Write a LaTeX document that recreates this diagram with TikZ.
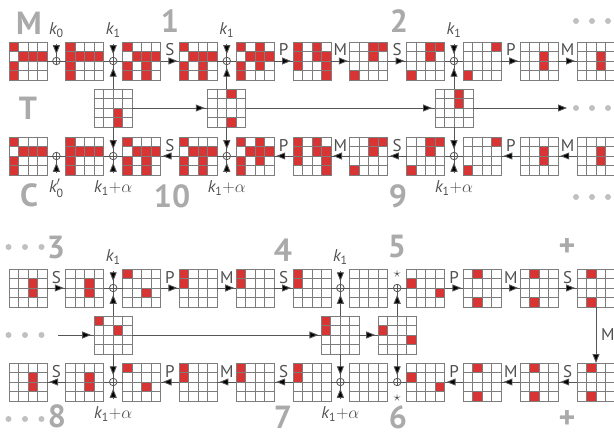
\documentclass[tikz,border=0pt]{standalone}
\usepackage{amsmath}
\usepackage{fontspec}
\setmainfont{PT Sans}
\usetikzlibrary{arrows.meta,calc}
\definecolor{cellred}{RGB}{217,52,52}
\definecolor{gridgray}{RGB}{125,125,125}
\definecolor{conngray}{RGB}{85,85,85}
\definecolor{labgray}{RGB}{80,80,80}
\definecolor{biggray}{RGB}{170,170,170}
\definecolor{dotgray}{RGB}{192,192,192}
\tikzset{
  gridbox/.style={draw=none, minimum size=38pt, inner sep=0pt, outer sep=0pt},
  gridline/.style={draw=gridgray, line width=0.9pt},
  conn/.style={draw=conngray, line width=0.9pt},
  tip/.style={-{Triangle[length=9pt,width=7pt]}},
  xorc/.style={circle, draw=conngray, line width=0.8pt, minimum size=7.5pt, inner sep=0pt, outer sep=0pt,
    path picture={\draw[conngray, line width=0.7pt] (path picture bounding box.north) -- (path picture bounding box.south) (path picture bounding box.west) -- (path picture bounding box.east);}},
  oplab/.style={text=labgray, font=\fontsize{17}{19}\selectfont, anchor=base, inner sep=0pt},
  keylab/.style={text=labgray, font=\fontsize{17}{19}\selectfont, inner sep=0pt},
  starlab/.style={text=labgray, font=\fontsize{14}{16}\selectfont, inner sep=0pt},
  biglab/.style={text=biggray, font=\fontsize{32}{32}\selectfont\bfseries, inner sep=0pt},
  dotc/.style={circle, fill=dotgray, minimum size=6pt, inner sep=0pt},
}
\newcommand\gridlines[1]{%
  \foreach \ii in {1,2,3} {%
    \draw[gridline] ($(#1.north west)+(\ii*9.5,0)$) -- ++(0,38);
    \draw[gridline] ($(#1.north west)+(0,\ii*9.5)$) -- ++(38,0);}
  \draw[gridline] (#1.north west) rectangle (#1.south east);}
\newcommand\cellgrid[4]{%
  \node[gridbox] (#1) at (#2,#3) {};
  \foreach \ri/\ci in {#4} {\fill[cellred] ($(#1.north west)+(\ci*9.5,\ri*9.5)$) rectangle ++(9.5,9.5);}
  \gridlines{#1}}
\newcommand\emptygrid[3]{%
  \node[gridbox] (#1) at (#2,#3) {};
  \gridlines{#1}}
\newcommand\xorat[5]{%
  \node[xorc] (#1) at (#2,#3) {};
  \draw[conn] (#4.east) -- (#1) -- (#5.west);}
\newcommand\xorleft[5]{%
  \node[xorc] (#1) at (#2,#3) {};
  \draw[conn] (#4.west) -- (#1) -- (#5.east);}
\newcommand\op[4]{%
  \draw[conn] (#1) edge[tip, shorten >=2pt] (#2) -- (#2);
  \node[oplab] (#3) at ($(#1)!0.5!(#2)+(0,-5)$) {#4};}
\newcommand\keyabove[3]{%
  \coordinate (#1k) at ($(#1)+(0,-17)$);
  \draw[conn] (#1k) edge[tip, shorten >=3pt] (#1) -- (#1);
  \node[keylab] (#2) at ($(#1)+(0,-31)$) {#3};}
\newcommand\keybelow[3]{%
  \coordinate (#1k) at ($(#1)+(0,17)$);
  \draw[conn] (#1k) edge[tip, shorten >=3pt] (#1) -- (#1);
  \node[keylab] (#2) at ($(#1)+(0,32)$) {#3};}
\newcommand\tup[2]{\draw[conn] (#1.north) edge[tip, shorten >=3pt] (#2) -- (#2);}
\newcommand\tdown[2]{\draw[conn] (#1.south) edge[tip, shorten >=3pt] (#2) -- (#2);}
\newcommand\kone{$\textit{k}_{\text{1}}$}
\newcommand\kalpha{$\textit{k}_{\text{1}}{+}\alpha$}
\begin{document}
\begin{tikzpicture}[x=1pt,y=-1pt]
\useasboundingbox (0,0) rectangle (614,436);
\clip (0,0) rectangle (614,436);

% ---------- Row 1 (M) ----------
\cellgrid{a1}{28}{61}{0/0,1/1,1/2,1/3,2/0,3/0}
\cellgrid{a2}{84.8}{61}{0/0,1/0,1/1,1/2,1/3,2/0,3/0}
\cellgrid{a3}{141.6}{61}{0/0,1/1,1/2,1/3,2/0,2/2,3/0,3/2}
\cellgrid{a4}{198.4}{61}{0/0,1/1,1/2,1/3,2/0,2/2,3/0,3/2}
\cellgrid{a5}{255.2}{61}{0/0,0/2,1/1,1/2,1/3,2/0,2/2,3/0}
\cellgrid{a6}{312}{61}{0/0,0/2,1/0,1/2,1/3,2/0,2/3,3/3}
\cellgrid{a7}{368.8}{61}{0/2,0/3,1/2,3/0}
\cellgrid{a8}{425.6}{61}{0/2,0/3,1/2,3/0}
\cellgrid{a9}{482.4}{61}{0/3,3/0}
\cellgrid{a10}{539.2}{61}{1/2,2/2}
\cellgrid{a11}{596}{61}{1/2,2/2}

% ---------- Row 2 (C) ----------
\cellgrid{c1}{28}{156}{0/0,1/1,1/2,1/3,2/0,3/0}
\cellgrid{c2}{84.8}{156}{0/0,1/0,1/1,1/2,1/3,2/0,3/0}
\cellgrid{c3}{141.6}{156}{0/0,1/1,1/2,1/3,2/0,2/2,3/0,3/2}
\cellgrid{c4}{198.4}{156}{0/0,1/1,1/2,1/3,2/0,2/2,3/0,3/2}
\cellgrid{c5}{255.2}{156}{0/0,0/2,1/1,1/2,1/3,2/0,2/2,3/0}
\cellgrid{c6}{312}{156}{0/0,0/2,1/0,1/2,1/3,2/0,2/3,3/3}
\cellgrid{c7}{368.8}{156}{0/2,0/3,1/2,3/0}
\cellgrid{c8}{425.6}{156}{0/2,0/3,1/2,3/0}
\cellgrid{c9}{482.4}{156}{0/3,3/0}
\cellgrid{c10}{539.2}{156}{1/2,2/2}
\cellgrid{c11}{596}{156}{1/2,2/2}

% ---------- Tweak row (top) ----------
\cellgrid{ta1}{113.2}{108}{2/2,3/2}
\cellgrid{ta2}{226.8}{108}{0/2,3/2}
\cellgrid{ta3}{454}{108}{0/2,1/2}
\coordinate (taend) at (567,108);
\draw[conn] (ta1.east) edge[tip, shorten >=3pt] (ta2.west) -- (ta2.west);
\draw[conn] (ta2.east) edge[tip, shorten >=3pt] (ta3.west) -- (ta3.west);
\draw[conn] (ta3.east) edge[tip] (taend);

% row 1 connectors
\xorat{xa1}{56.4}{61}{a1}{a2}
\keyabove{xa1}{ka1}{$\textit{k}_{\text{0}}$}
\xorat{xa2}{113.2}{61}{a2}{a3}
\keyabove{xa2}{ka2}{\kone}
\op{a3.east}{a4.west}{la3}{S}
\xorat{xa4}{226.8}{61}{a4}{a5}
\keyabove{xa4}{ka4}{\kone}
\op{a5.east}{a6.west}{la5}{P}
\op{a6.east}{a7.west}{la6}{M}
\op{a7.east}{a8.west}{la7}{S}
\xorat{xa8}{454}{61}{a8}{a9}
\keyabove{xa8}{ka8}{\kone}
\op{a9.east}{a10.west}{la9}{P}
\op{a10.east}{a11.west}{la10}{M}

% row 2 connectors
\xorleft{xc1}{56.4}{156}{c2}{c1}
\keybelow{xc1}{kc1}{$\textit{k}'_{\text{0}}$}
\xorleft{xc2}{113.2}{156}{c3}{c2}
\keybelow{xc2}{kc2}{\kalpha}
\op{c4.west}{c3.east}{lc3}{S}
\xorleft{xc4}{226.8}{156}{c5}{c4}
\keybelow{xc4}{kc4}{\kalpha}
\op{c6.west}{c5.east}{lc5}{P}
\op{c7.west}{c6.east}{lc6}{M}
\op{c8.west}{c7.east}{lc7}{S}
\xorleft{xc8}{454}{156}{c9}{c8}
\keybelow{xc8}{kc8}{\kalpha}
\op{c10.west}{c9.east}{lc9}{P}
\op{c11.west}{c10.east}{lc10}{M}

% tweak verticals (top half)
\tup{ta1}{xa2} \tdown{ta1}{xc2}
\tup{ta2}{xa4} \tdown{ta2}{xc4}
\tup{ta3}{xa8} \tdown{ta3}{xc8}

% ---------- Row 3 ----------
\cellgrid{b1}{28}{288}{1/2,2/2}
\cellgrid{b2}{84.8}{288}{1/2,2/2}
\cellgrid{b3}{141.6}{288}{0/0,2/2}
\cellgrid{b4}{198.4}{288}{0/0,1/0}
\cellgrid{b5}{255.2}{288}{0/0,1/0}
\cellgrid{b6}{312}{288}{0/0,1/0}
\emptygrid{b7}{368.8}{288}
\cellgrid{b8}{425.6}{288}{1/0,2/3}
\cellgrid{b9}{482.4}{288}{0/1,3/1}
\cellgrid{b10}{539.2}{288}{0/1,3/1}
\cellgrid{b11}{596}{288}{0/1,3/1}

% ---------- Row 4 ----------
\cellgrid{d1}{28}{382}{1/2,2/2}
\cellgrid{d2}{84.8}{382}{1/2,2/2}
\cellgrid{d3}{141.6}{382}{0/0,2/2}
\cellgrid{d4}{198.4}{382}{0/0,1/0}
\cellgrid{d5}{255.2}{382}{0/0,1/0}
\cellgrid{d6}{312}{382}{0/0,1/0}
\emptygrid{d7}{368.8}{382}
\cellgrid{d8}{425.6}{382}{1/0,2/3}
\cellgrid{d9}{482.4}{382}{0/1,3/1}
\cellgrid{d10}{539.2}{382}{0/1,3/1}
\cellgrid{d11}{596}{382}{0/1,3/1}

% ---------- Tweak row (bottom) ----------
\cellgrid{tb1}{113.2}{335}{0/0,1/2}
\cellgrid{tb2}{340.4}{335}{0/0,1/0}
\cellgrid{tb3}{397.2}{335}{1/0,2/3}
\coordinate (tbstart) at (58,335);
\draw[conn] (tbstart) edge[tip, shorten >=3pt] (tb1.west) -- (tb1.west);
\draw[conn] (tb1.east) edge[tip, shorten >=3pt] (tb2.west) -- (tb2.west);
\draw[conn] (tb2.east) edge[tip, shorten >=3pt] (tb3.west) -- (tb3.west);

% row 3 connectors
\op{b1.east}{b2.west}{lb1}{S}
\xorat{xb2}{113.2}{288}{b2}{b3}
\keyabove{xb2}{kb2}{\kone}
\op{b3.east}{b4.west}{lb3}{P}
\op{b4.east}{b5.west}{lb4}{M}
\op{b5.east}{b6.west}{lb5}{S}
\xorat{xb6}{340.4}{288}{b6}{b7}
\keyabove{xb6}{kb6}{\kone}
\xorat{xb7}{397.2}{288}{b7}{b8}
\node[starlab] (sb7) at (397.2,274) {$\star$};
\op{b8.east}{b9.west}{lb8}{P}
\op{b9.east}{b10.west}{lb9}{M}
\op{b10.east}{b11.west}{lb10}{S}

% row 4 connectors
\op{d2.west}{d1.east}{ld1}{S}
\xorleft{xd2}{113.2}{382}{d3}{d2}
\keybelow{xd2}{kd2}{\kalpha}
\op{d4.west}{d3.east}{ld3}{P}
\op{d5.west}{d4.east}{ld4}{M}
\op{d6.west}{d5.east}{ld5}{S}
\xorleft{xd6}{340.4}{382}{d7}{d6}
\keybelow{xd6}{kd6}{\kalpha}
\xorleft{xd7}{397.2}{382}{d8}{d7}
\node[starlab] (sd7) at (397.2,398) {$\star$};
\op{d9.west}{d8.east}{ld8}{P}
\op{d10.west}{d9.east}{ld9}{M}
\op{d11.west}{d10.east}{ld10}{S}

% tweak verticals (bottom half)
\tup{tb1}{xb2} \tdown{tb1}{xd2}
\tup{tb2}{xb6} \tdown{tb2}{xd6}
\tup{tb3}{xb7} \tdown{tb3}{xd7}

% right turn
\draw[conn] (b11.south) edge[tip] (d11.north);
\node[oplab, anchor=west] (lturn) at (601,335) {M};

% ---------- big labels ----------
\node[biglab] (bM) at (29,23) {M};
\node[biglab] (b1l) at (170,21) {1};
\node[biglab] (b2l) at (399,21) {2};
\node[biglab] (bT) at (28,108) {T};
\node[biglab] (bC) at (29,195) {C};
\node[biglab] (b10l) at (172,196) {10};
\node[biglab] (b9l) at (398,196) {9};
\node[biglab] (b3l) at (56,248) {3};
\node[biglab] (b4l) at (283,250) {4};
\node[biglab] (b5l) at (397,247) {5};
\node[biglab] (bp1) at (567,247) {+};
\node[biglab] (b8l) at (57,416.5) {8};
\node[biglab] (b7l) at (283,417) {7};
\node[biglab] (b6l) at (398,417) {6};
\node[biglab] (bp2) at (567,419) {+};

% ---------- dots ----------
\foreach \dx [count=\n] in {576,592,608} {
  \node[dotc] (dA\n) at (\dx,21) {};
  \node[dotc] (dB\n) at (\dx,108) {};
  \node[dotc] (dC\n) at (\dx,197) {};
}
\foreach \dx [count=\n] in {8.5,25,41.5} {
  \node[dotc] (dD\n) at (\dx,247) {};
  \node[dotc] (dE\n) at (\dx,335) {};
  \node[dotc] (dF\n) at (\dx,419) {};
}
\end{tikzpicture}
\end{document}
